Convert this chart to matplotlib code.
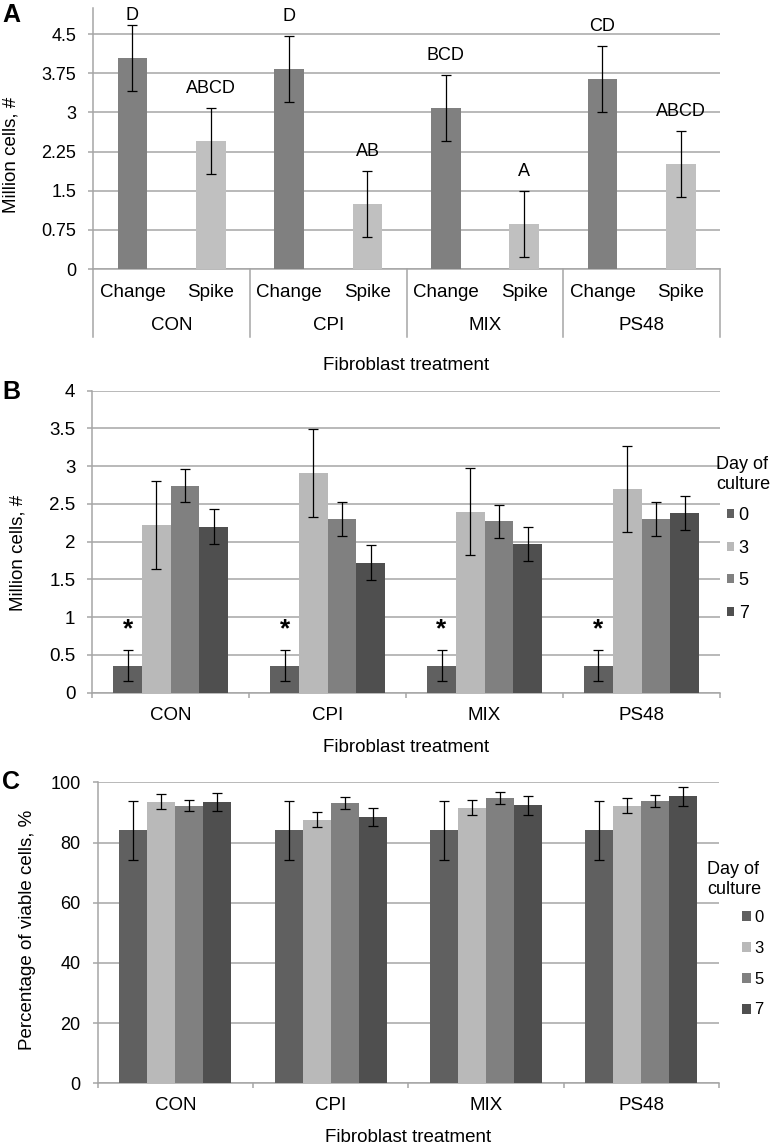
import matplotlib
matplotlib.use("Agg")
import matplotlib.pyplot as plt
from matplotlib.transforms import blended_transform_factory
import numpy as np

plt.rcParams['font.family'] = ['Liberation Sans', 'DejaVu Sans']

W, H = 771, 1145

# panel A
groups = ['CON', 'CPI', 'MIX', 'PS48']
modes = ['Change', 'Spike']
a_change = [4.04, 3.83, 3.08, 3.64]
a_change_err = [0.63, 0.63, 0.63, 0.63]
a_spike = [2.45, 1.25, 0.86, 2.01]
a_spike_err = [0.63, 0.63, 0.63, 0.63]
a_letters_change = ['D', 'D', 'BCD', 'CD']
a_letters_spike = ['ABCD', 'AB', 'A', 'ABCD']
a_yticks = [0, 0.75, 1.5, 2.25, 3, 3.75, 4.5]
a_yticklabels = ['0', '0.75', '1.5', '2.25', '3', '3.75', '4.5']

# panel B
days = ['0', '3', '5', '7']
b_means = [
    [0.36, 0.36, 0.36, 0.36],   # day 0
    [2.22, 2.91, 2.40, 2.70],   # day 3
    [2.74, 2.30, 2.27, 2.30],   # day 5
    [2.20, 1.72, 1.97, 2.38],   # day 7
]
b_errs = [
    [0.20, 0.20, 0.20, 0.20],
    [0.58, 0.58, 0.57, 0.57],
    [0.22, 0.22, 0.22, 0.22],
    [0.23, 0.23, 0.23, 0.23],
]
b_star = ['*', '*', '*', '*']

# panel C
c_means = [
    [84.0, 84.0, 84.0, 84.0],
    [93.5, 87.5, 91.5, 92.2],
    [92.2, 93.2, 94.7, 93.7],
    [93.6, 88.4, 92.3, 95.3],
]
c_errs = [
    [9.7, 9.7, 9.7, 9.7],
    [2.5, 2.5, 2.5, 2.5],
    [1.9, 2.0, 2.0, 2.0],
    [3.0, 3.0, 3.0, 3.1],
]

day_colors = ['#606060', '#b9b9b9', '#808080', '#4f4f4f']
grid_col = '#a6a6a6'


def fx(px):
    return px / W


def fy(px):
    return 1 - px / H


def px2pt(px):
    return px * 0.72


def style_axis(ax, ticks, labels, fs):
    ax.set_yticks(ticks)
    ax.set_yticklabels(labels, fontsize=fs)
    ax.yaxis.grid(True, color=grid_col, lw=1.1)
    ax.set_axisbelow(True)
    for s in ['top', 'right', 'bottom']:
        ax.spines[s].set_visible(False)
    ax.spines['left'].set_color(grid_col)
    ax.spines['left'].set_linewidth(1.1)
    ax.axhline(0, color=grid_col, lw=1.1, zorder=1, clip_on=False)
    ax.tick_params(axis='y', length=px2pt(5), width=1.1, color=grid_col,
                   pad=px2pt(12))
    ax.set_xticks([])


fig = plt.figure(figsize=(W / 100, H / 100), dpi=100)

# ---------------- A ----------------
axA = fig.add_axes([fx(93.3), fy(269), fx(720 - 93.3), (269 - 8) / H])
x = np.arange(len(groups) * 2)
vals = []
errs = []
cols = []
letters = []
for i in range(len(groups)):
    vals += [a_change[i], a_spike[i]]
    errs += [a_change_err[i], a_spike_err[i]]
    cols += ['#808080', '#c0c0c0']
    letters += [a_letters_change[i], a_letters_spike[i]]
axA.bar(x, vals, width=0.38, color=cols, zorder=2)
axA.errorbar(x, vals, yerr=errs, fmt='none', ecolor='black', elinewidth=0.9,
             capsize=3.5, capthick=0.9, zorder=3)
for xi, v, e, t in zip(x, vals, errs, letters):
    # keep the top letter inside the picture
    axA.text(xi, min(v + e + 0.38, 4.86), t, ha='center', va='center',
             fontsize=13, clip_on=False)
axA.set_xlim(-0.5, len(x) - 0.5)
axA.set_ylim(0, 5)
style_axis(axA, a_yticks, a_yticklabels, 13)
trA = blended_transform_factory(axA.transData, fig.transFigure)
for b in np.arange(-0.5, len(x), 2):
    axA.plot([b, b], [fy(269), fy(337)], transform=trA, color=grid_col,
             lw=1.1, clip_on=False)
for i, g in enumerate(groups):
    for j, m in enumerate(modes):
        axA.text(2 * i + j, fy(292), m, transform=trA, ha='center',
                 va='center', fontsize=13.5)
    axA.text(2 * i + 0.5, fy(326), g, transform=trA, ha='center',
             va='center', fontsize=13.5)
fig.text(fx(406.5), fy(366), 'Fibroblast treatment', ha='center',
         va='center', fontsize=13.5)
fig.text(fx(11), fy(155), 'Million cells, #', rotation=90, ha='center',
         va='center', fontsize=13.5)
fig.text(fx(2), fy(15), 'A', fontsize=18, fontweight='bold', ha='left',
         va='center')


def day_panel(ax, means, errs, width, ticks, labels, fs):
    xg = np.arange(len(groups))
    handles = []
    for k in range(len(days)):
        xs = xg + (k - 1.5) * width
        h = ax.bar(xs, means[k], width=width, color=day_colors[k], zorder=2,
                   label=days[k])
        ax.errorbar(xs, means[k], yerr=errs[k], fmt='none', ecolor='black',
                    elinewidth=0.9, capsize=3.5, capthick=0.9, zorder=3)
        handles.append(h)
    ax.set_xlim(-0.5, len(groups) - 0.5)
    style_axis(ax, ticks, labels, fs)
    ax.set_xticks(np.arange(-0.5, len(groups), 1), minor=True)
    ax.tick_params(axis='x', which='minor', length=px2pt(5), width=1.1,
                   color=grid_col)
    return handles


# ---------------- B ----------------
axB = fig.add_axes([fx(92.3), fy(692.7), fx(720 - 92.3), (692.7 - 390.7) / H])
axB.set_ylim(0, 4)
hB = day_panel(axB, b_means, b_errs, 0.183, np.arange(0, 4.01, 0.5),
               ['0', '0.5', '1', '1.5', '2', '2.5', '3', '3.5', '4'], 13.5)
for i, s in enumerate(b_star):
    axB.text(i - 1.5 * 0.183, 0.84, s, ha='center', va='center',
             fontsize=19, fontweight='bold')
trB = blended_transform_factory(axB.transData, fig.transFigure)
for i, g in enumerate(groups):
    axB.text(i, fy(716), g, transform=trB, ha='center', va='center',
             fontsize=13.5)
fig.text(fx(406), fy(747), 'Fibroblast treatment', ha='center',
         va='center', fontsize=13.5)
fig.text(fx(18), fy(553), 'Million cells, #', rotation=90, ha='center',
         va='center', fontsize=13.5)
fig.text(fx(2), fy(392), 'B', fontsize=18, fontweight='bold', ha='left',
         va='center')
fig.text(fx(716), fy(474.5), 'Day of\nculture', ha='left', va='center',
         fontsize=13, linespacing=1.25)
axB.legend(hB, days, loc='upper left', bbox_to_anchor=(fx(727), fy(507)),
           bbox_transform=fig.transFigure, frameon=False, fontsize=13,
           handlelength=0.4, handleheight=0.4, handletextpad=0.25,
           labelspacing=0.86, borderpad=0, borderaxespad=0)

# ---------------- C ----------------
axC = fig.add_axes([fx(97.7), fy(1083.3), fx(719 - 97.7), (1083.3 - 782.3) / H])
axC.set_ylim(0, 100)
hC = day_panel(axC, c_means, c_errs, 0.18, [0, 20, 40, 60, 80, 100],
               ['0', '20', '40', '60', '80', '100'], 13)
trC = blended_transform_factory(axC.transData, fig.transFigure)
for i, g in enumerate(groups):
    axC.text(i, fy(1106), g, transform=trC, ha='center', va='center',
             fontsize=13.5)
fig.text(fx(408), fy(1138), 'Fibroblast treatment', ha='center',
         va='center', fontsize=13.5)
fig.text(fx(28), fy(930), 'Percentage of viable cells, %', rotation=90,
         ha='center', va='center', fontsize=13.5)
fig.text(fx(2), fy(782), 'C', fontsize=18, fontweight='bold', ha='left',
         va='center')
fig.text(fx(707), fy(879.5), 'Day of\nculture', ha='left', va='center',
         fontsize=13, linespacing=1.25)
axC.legend(hC, days, loc='upper left', bbox_to_anchor=(fx(742), fy(910)),
           bbox_transform=fig.transFigure, frameon=False, fontsize=12,
           handlelength=0.55, handleheight=0.55, handletextpad=0.2,
           labelspacing=0.95, borderpad=0, borderaxespad=0)

fig.savefig('out.png', dpi=100)
